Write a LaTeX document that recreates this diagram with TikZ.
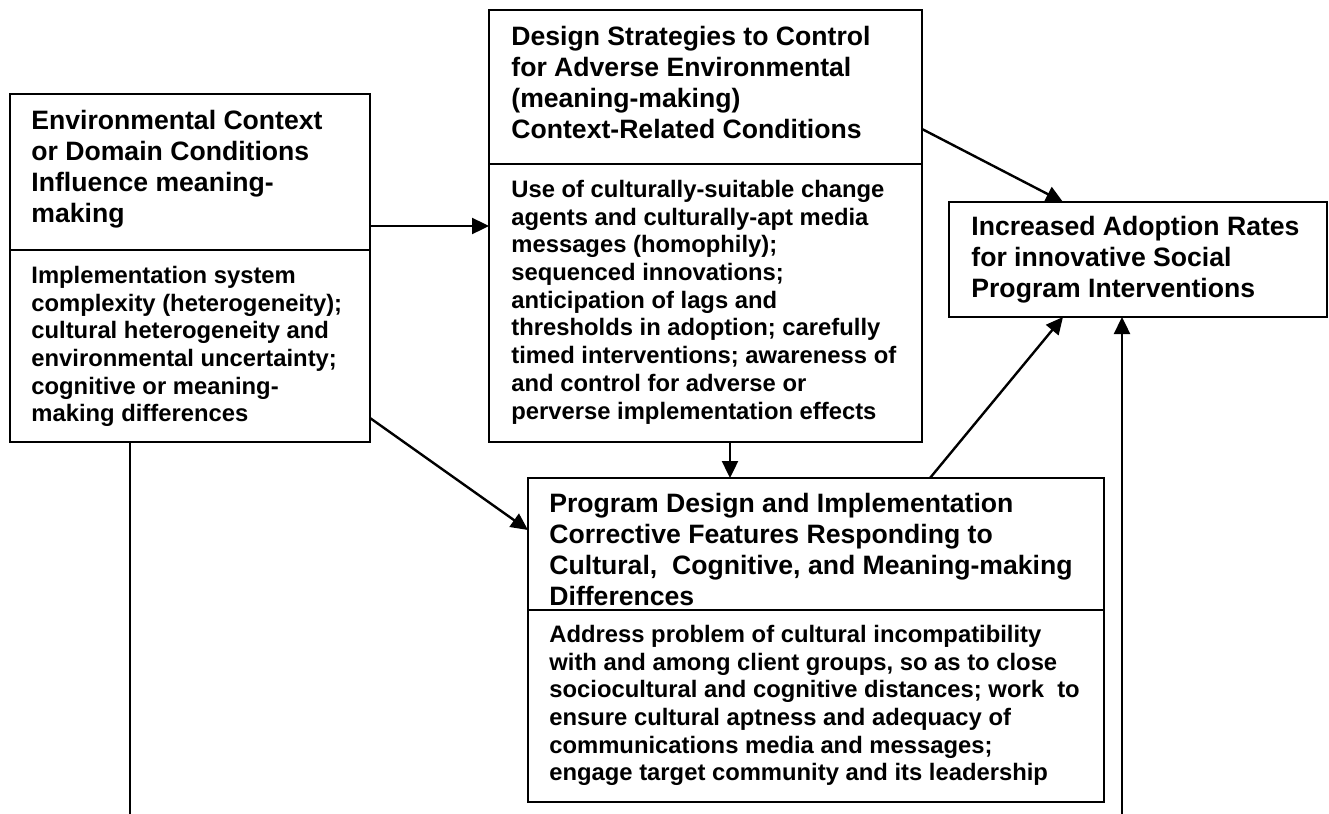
\documentclass[tikz,border=0pt]{standalone}
\usepackage{fontspec}
\setmainfont{Liberation Sans}
\usetikzlibrary{arrows.meta}
\tikzset{
  box/.style={draw, line width=1.2pt, anchor=north west, inner sep=0pt, outer sep=0pt},
  ttl/.style={anchor=north west, inner sep=0pt, align=left, font=\bfseries\fontsize{13.3}{15.5}\selectfont},
  bdy/.style={anchor=north west, inner sep=0pt, align=left, font=\bfseries\fontsize{11.9}{13.85}\selectfont},
  conn/.style={line width=1.2pt},
  arr/.style={line width=1.2pt, -{Triangle[length=8.5pt,width=8pt]}}
}
\newcommand{\fl}{\rule{0pt}{10pt}}
\begin{document}
\begin{tikzpicture}[x=0.5pt,y=-0.5pt]
\useasboundingbox (0,0) rectangle (1329,814);
% boxes
\node (A) [box, minimum width=180pt, minimum height=174pt] at (10,94) {};
\node (B) [box, minimum width=216.5pt, minimum height=216pt] at (489,10) {};
\node (C) [box, minimum width=288pt, minimum height=162pt] at (528,478) {};
\node (D) [box, minimum width=189pt, minimum height=57.5pt] at (949,202) {};
% dividers
\draw[conn] (A.west |- 0,250) -- (A.east |- 0,250);
\draw[conn] (B.west |- 0,164) -- (B.east |- 0,164);
\draw[conn] (C.west |- 0,610) -- (C.east |- 0,610);
% texts
\node (At) [ttl] at (31,109) {\fl Environmental Context\\or Domain Conditions\\Influence meaning-\\making};
\node (Ab) [bdy] at (31,263) {\fl Implementation system\\complexity (heterogeneity);\\cultural heterogeneity and\\environmental uncertainty;\\cognitive or meaning-\\making differences};
\node (Bt) [ttl] at (511,25) {\fl Design Strategies to Control\\for Adverse Environmental\\(meaning-making)\\Context-Related Conditions};
\node (Bb) [bdy] at (511,177) {\fl Use of culturally-suitable change\\agents and culturally-apt media\\messages (homophily);\\sequenced innovations;\\anticipation of lags and\\thresholds in adoption; carefully\\timed interventions; awareness of\\and control for adverse or\\perverse implementation effects};
\node (Ct) [ttl] at (549,492) {\fl Program Design and Implementation\\Corrective Features Responding to\\Cultural,\ \ Cognitive, and Meaning-making\\Differences};
\node (Cb) [bdy] at (549,622) {\fl Address problem of cultural incompatibility\\with and among client groups, so as to close\\sociocultural and cognitive distances; work\ \ to\\ensure cultural aptness and adequacy of\\communications media and messages;\\engage target community and its leadership};
\node (Dt) [ttl] at (971,215) {\fl Increased Adoption Rates\\for innovative Social\\Program Interventions};
% connectors
\coordinate (e1) at (1122,814);
\coordinate (e2) at (130,814);
\draw[arr] (A.east |- 0,226) -- (B.west |- 0,226);
\draw[arr] (A.east |- 0,418) -- (C.west |- 0,530);
\draw[arr] (B.south -| 730,0) -- (C.north -| 730,0);
\draw[arr] (B.east |- 0,129) -- (D.north -| 1063,0);
\draw[arr] (C.north -| 930,0) -- (D.south -| 1063,0);
\draw[arr] (e1) -- (D.south -| e1);
\draw[conn] (A.south -| e2) -- (e2);
\end{tikzpicture}
\end{document}
